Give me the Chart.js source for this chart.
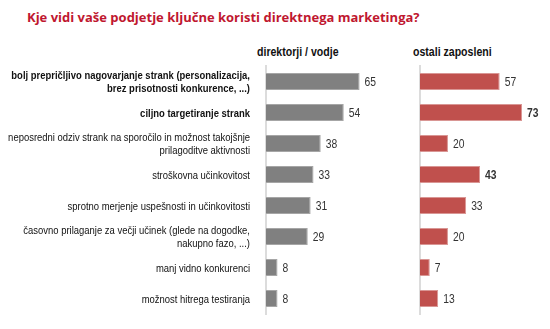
<!DOCTYPE html>
<html>
<head>
<meta charset="utf-8">
<script src="https://cdn.jsdelivr.net/npm/chart.js@4.4.1/dist/chart.umd.min.js"></script>
<style>
  body { margin: 0; background: #fff; width: 550px; height: 329px; overflow: hidden; position: relative; }
  #title { position: absolute; left: 27px; top: 8px; font: bold 13px "Open Sans", sans-serif; color: #c0172f; white-space: nowrap; }
  .head { position: absolute; top: 45px; font: bold 12px "Liberation Sans", sans-serif; color: #111; white-space: nowrap;
          transform: scaleX(0.88); transform-origin: left top; }
  #boxL { position: absolute; left: 0; top: 0; width: 410px; height: 329px; }
  #boxR { position: absolute; left: 410px; top: 0; width: 140px; height: 329px; }
</style>
</head>
<body>
<div id="title">Kje vidi vaše podjetje ključne koristi direktnega marketinga?</div>
<div class="head" style="left:257px">direktorji / vodje</div>
<div class="head" style="left:413px">ostali zaposleni</div>
<div id="boxL"><canvas id="chartL"></canvas></div>
<div id="boxR"><canvas id="chartR"></canvas></div>
<script>
const categories = [
  ["bolj prepričljivo nagovarjanje strank (personalizacija,", "brez prisotnosti konkurence, ...)"],
  ["ciljno targetiranje strank"],
  ["neposredni odziv strank na sporočilo in možnost takojšnje", "prilagoditve aktivnosti"],
  ["stroškovna učinkovitost"],
  ["sprotno merjenje uspešnosti in učinkovitosti"],
  ["časovno prilaganje za večji učinek (glede na dogodke,", "nakupno fazo, ...)"],
  ["manj vidno konkurenci"],
  ["možnost hitrega testiranja"]
];
const direktorji = [65, 54, 38, 33, 31, 29, 8, 8];
const zaposleni = [57, 73, 20, 43, 33, 20, 7, 13];
const boldCategories = [0, 1];
const boldZaposleni = [1, 3];

const FONT = '"Liberation Sans", sans-serif';
const SQUEEZE = 0.86; // narrow the Arial-like face horizontally

// writes the value to the right of each bar
const valueLabels = {
  id: 'valueLabels',
  afterDatasetsDraw(chart, args, opts) {
    const ctx = chart.ctx;
    const meta = chart.getDatasetMeta(0);
    const values = chart.data.datasets[0].data;
    ctx.save();
    ctx.textAlign = 'left';
    ctx.textBaseline = 'middle';
    ctx.fillStyle = '#333';
    meta.data.forEach(function (bar, i) {
      const bold = opts.bold && opts.bold.includes(i);
      ctx.font = (bold ? 'bold ' : '') + '12px ' + FONT;
      ctx.save();
      ctx.translate(bar.x + 5, bar.y + 1);
      ctx.scale(SQUEEZE, 1);
      ctx.fillText(values[i], 0, 0);
      ctx.restore();
    });
    ctx.restore();
  }
};

// category names, right aligned left of the axis
const categoryLabels = {
  id: 'categoryLabels',
  afterDraw(chart, args, opts) {
    if (!opts.show) return;
    const ctx = chart.ctx;
    const y = chart.scales.y;
    const right = y.right - 16;
    ctx.save();
    ctx.textAlign = 'right';
    ctx.textBaseline = 'middle';
    ctx.fillStyle = '#111';
    categories.forEach(function (lines, i) {
      const cy = y.getPixelForValue(i);
      ctx.font = (boldCategories.includes(i) ? 'bold ' : '') + '11px ' + FONT;
      lines.forEach(function (line, k) {
        const ly = cy + (k - (lines.length - 1) / 2) * 13 + 1;
        ctx.save();
        ctx.translate(right, ly);
        ctx.scale(SQUEEZE, 1);
        ctx.fillText(line, 0, 0);
        ctx.restore();
      });
    });
    ctx.restore();
  }
};

function makeChart(id, values, color, border, max, leftWidth, showLabels, boldValues) {
  const ctx = document.getElementById(id).getContext('2d');
  return new Chart(ctx, {
    type: 'bar',
    data: {
      labels: categories.map(function (c) { return c.join(' '); }),
      datasets: [{
        data: values,
        backgroundColor: color,
        borderColor: border,
        borderWidth: 1,
        borderSkipped: 'left',
        barPercentage: 0.55,
        categoryPercentage: 1
      }]
    },
    options: {
      indexAxis: 'y',
      responsive: true,
      maintainAspectRatio: false,
      animation: false,
      layout: { padding: { top: 66, bottom: 15, left: 0, right: 0 } },
      plugins: {
        legend: { display: false },
        tooltip: { enabled: false },
        valueLabels: { bold: boldValues },
        categoryLabels: { show: showLabels }
      },
      scales: {
        x: { display: false, min: 0, max: max },
        y: {
          grid: { display: false },
          border: { display: true, color: '#dcdcdc', width: 2 },
          ticks: { display: false },
          afterFit: function (scale) { scale.width = leftWidth; }
        }
      }
    },
    plugins: [valueLabels, categoryLabels]
  });
}

makeChart('chartL', direktorji, '#808080', '#a6a6a6', 100, 266, true, []);
makeChart('chartR', zaposleni, '#c0504d', '#d99694', 93, 10, false, boldZaposleni);
</script>
</body>
</html>
